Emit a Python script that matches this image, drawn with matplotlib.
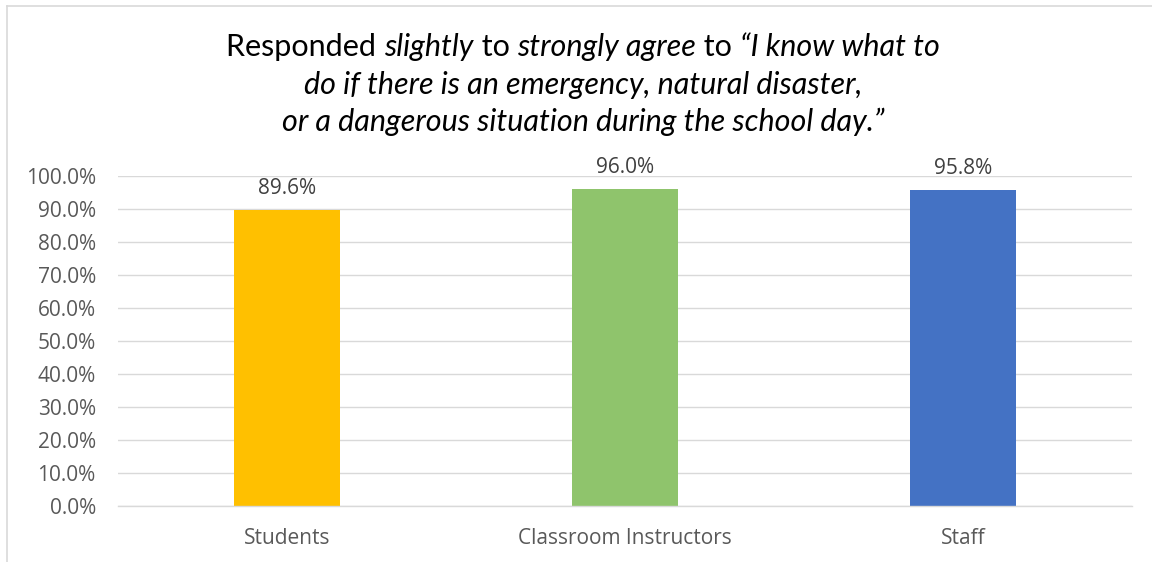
import matplotlib
matplotlib.use("Agg")
import matplotlib.pyplot as plt
from matplotlib.lines import Line2D
from matplotlib.offsetbox import TextArea, HPacker, AnchoredOffsetbox
from matplotlib.ticker import MultipleLocator, PercentFormatter

# survey result per respondent group (percent who slightly-to-strongly agree)
groups = ["Students", "Classroom Instructors", "Staff"]
agree_share = [89.6, 96.0, 95.8]
bar_colors = ["#FFC000", "#8FC46C", "#4472C4"]

# title lines, as (text, italic) pieces
title_lines = [
    [("Responded ", False), ("slightly", True), (" to ", False),
     ("strongly agree", True), (" to ", False), ("\u201cI know what to", True)],
    [("do if there is an emergency, natural disaster,", True)],
    [("or a dangerous situation during the school day.\u201d", True)],
]

plt.rcParams['font.family'] = ['Open Sans', 'DejaVu Sans']
title_font = ['Lato', 'DejaVu Sans']

W, H = 1152, 562
fig = plt.figure(figsize=(W / 100, H / 100), dpi=100)
fig.patch.set_facecolor("white")

ax = fig.add_axes([118 / W, 1 - 506 / H, (1132 - 118) / W, (506 - 176) / H])

xs = range(len(groups))
ax.bar(xs, agree_share, width=0.315, color=bar_colors, zorder=2)
for x, v in zip(xs, agree_share):
    ax.annotate("{:.1f}%".format(v), (x, v), xytext=(0, 8),
                textcoords="offset points", ha="center", va="bottom",
                fontsize=15, color="#404040")

ax.set_xlim(-0.5, len(groups) - 0.5)
ax.set_ylim(0, 100)
ax.yaxis.set_major_locator(MultipleLocator(10))
ax.yaxis.set_major_formatter(PercentFormatter(decimals=1))
ax.set_xticks(list(xs))
ax.set_xticklabels(groups)
ax.grid(axis="y", color="#d9d9d9", linewidth=1, zorder=0)
ax.set_axisbelow(True)
for side in ["left", "right", "top"]:
    ax.spines[side].set_visible(False)
ax.spines["bottom"].set_color("#d9d9d9")
ax.spines["bottom"].set_linewidth(1)
ax.tick_params(axis="both", length=0, labelsize=15, labelcolor="#595959")
ax.tick_params(axis="x", pad=16)
ax.tick_params(axis="y", pad=16)

# mixed upright / italic title, one packed row per line
line_y = [47, 85, 122]
for pieces, y in zip(title_lines, line_y):
    boxes = [TextArea(t, textprops=dict(fontsize=22, color="black",
                                        family=title_font,
                                        style="italic" if it else "normal"))
             for t, it in pieces]
    row = HPacker(children=boxes, align="baseline", pad=0, sep=0)
    anchored = AnchoredOffsetbox(loc="center", child=row, pad=0, borderpad=0,
                                 frameon=False,
                                 bbox_to_anchor=(583 / W, 1 - y / H),
                                 bbox_transform=fig.transFigure)
    fig.add_artist(anchored)

# chart border (left and top edges)
fig.add_artist(Line2D([7 / W, 7 / W], [0, 1 - 6 / H], transform=fig.transFigure,
                      color="#d9d9d9", linewidth=1.2))
fig.add_artist(Line2D([7 / W, 1], [1 - 6 / H, 1 - 6 / H], transform=fig.transFigure,
                      color="#d9d9d9", linewidth=1.2))

fig.savefig("out.png", dpi=100)
